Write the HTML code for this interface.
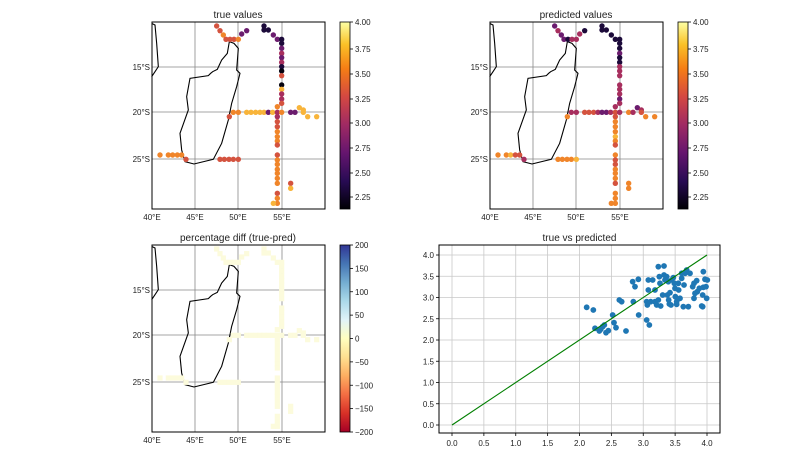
<!DOCTYPE html>
<html><head><meta charset="utf-8"><style>
body{margin:0;background:#fff;}
svg{display:block;font-family:"Liberation Sans","DejaVu Sans",sans-serif;}
</style></head><body>
<svg id="s" width="800" height="450" viewBox="0 0 800 450" xmlns="http://www.w3.org/2000/svg">
<defs>
<linearGradient id="inf" x1="0" y1="1" x2="0" y2="0">
<stop offset="0" stop-color="#000004"/><stop offset="0.15" stop-color="#280b54"/><stop offset="0.3" stop-color="#65156e"/><stop offset="0.45" stop-color="#9f2a63"/><stop offset="0.6" stop-color="#d44842"/><stop offset="0.75" stop-color="#f57d15"/><stop offset="0.88" stop-color="#fac127"/><stop offset="1" stop-color="#fcffa4"/>
</linearGradient>
<linearGradient id="rdyl" x1="0" y1="1" x2="0" y2="0">
<stop offset="0" stop-color="#a50026"/><stop offset="0.1" stop-color="#d73027"/><stop offset="0.2" stop-color="#f46d43"/><stop offset="0.3" stop-color="#fdae61"/><stop offset="0.4" stop-color="#fee090"/><stop offset="0.5" stop-color="#ffffbf"/><stop offset="0.6" stop-color="#e0f3f8"/><stop offset="0.7" stop-color="#abd9e9"/><stop offset="0.8" stop-color="#74add1"/><stop offset="0.9" stop-color="#4575b4"/><stop offset="1" stop-color="#313695"/>
</linearGradient>
</defs>
<g id="root"></g>
</svg>
<script>
var NS="http://www.w3.org/2000/svg",root=document.getElementById("root");
function el(t,a,p){var e=document.createElementNS(NS,t);for(var k in a)e.setAttribute(k,a[k]);(p||root).appendChild(e);return e;}
function txt(x,y,s,a,sz){var e=el("text",{x:x,y:y,"font-size":sz||9,fill:"#222","text-anchor":a||"middle"});e.textContent=s;return e;}
var coast="M35,40 L45,45 L50,100 L55,170 L45,185 L35,200 M268,95 L262,130 L245,150 L238,165 L232,178 L218,185 L212,190 L205,197 L150,205 L140,260 L145,300 L120,370 L125,420 L135,455 L162,462 L220,448 L245,400 L265,330 L275,280 L290,230 L300,190 L290,180 L295,115 L282,100 Z";
var O="#f0852a",R="#d4533f",Y="#f8b43a",P="#6b1c6e",D="#1c0a3a",M="#a72f5e",B="#050310";
var pts=[[230,48,R,P],[240,62,R,M],[250,75,O,P],[258,88,R,P],[270,88,R,D],[282,88,R,M],[295,88,O,M],[305,72,P,M],[320,62,P,D],
[372,48,D,D],[372,60,D,D],[385,60,D,D],[400,75,P,D],[412,88,P,D],
[425,88,D,D],[425,100,D,D],[425,115,P,D],[425,130,M,P],[425,143,P,D],[425,157,M,D],[425,170,D,M],[425,183,B,M],[425,197,R,M],[425,225,B,M],[425,238,Y,M],[425,252,M,M],[425,267,M,P],[425,280,R,M],
[268,320,R,O],[280,307,O,M],[295,307,O,M],[320,307,Y,R],[333,307,Y,R],[347,307,Y,R],[360,307,Y,M],[372,307,Y,P],[385,307,P,P],[398,307,Y,M],[412,307,M,R],[425,307,O,M],[452,307,P,O],[465,307,P,M],[478,293,Y,P],[490,300,Y,M],[490,307,Y,R],[503,320,Y,O],[530,320,Y,O],
[412,290,O,M],[412,320,M,R],[412,335,R,O],[412,350,R,O],[412,365,O,O],[412,380,O,Y],[412,393,O,O],[412,405,R,R],
[412,435,R,O],[412,450,O,R],[412,463,O,R],[412,478,O,O],[412,490,O,O],[412,505,O,O],[412,520,O,R],[412,550,R,O],[412,565,O,O],[412,580,O,O],[400,580,Y,O],
[452,520,R,O],[452,535,Y,O],
[60,435,O,O],[85,435,O,O],[98,435,O,Y],[112,435,O,R],[125,435,O,R],[138,448,R,M],
[240,448,R,O],[253,448,R,O],[267,448,R,O],[280,448,R,O],[295,448,R,Y]];
function map(dx,dy,title,mode){
  var g=el("g",{transform:"translate("+dx+","+dy+")"});
  var L=152,T=22,Rr=325,Bt=209;
  [195,238,282].forEach(function(x){el("line",{x1:x,y1:T,x2:x,y2:Bt,stroke:"#888","stroke-width":0.8},g);});
  [67,112,159].forEach(function(y){el("line",{x1:L,y1:y,x2:Rr,y2:y,stroke:"#888","stroke-width":0.8},g);});
  var cg=el("g",{transform:"translate(140,10) scale(0.3333)"},g);
  el("path",{d:coast,fill:"none",stroke:"#000","stroke-width":3.3},cg);
  pts.forEach(function(p){
    var x=140+p[0]/3,y=10+p[1]/3;
    if(mode==2){el("rect",{x:x-2.6,y:y-2.6,width:5.2,height:5.2,fill:"#fcfbdc"},g);}
    else el("circle",{cx:x,cy:y,r:2.7,fill:mode==0?p[2]:p[3]},g);
  });
  el("rect",{x:L,y:T,width:Rr-L,height:Bt-T,fill:"none",stroke:"#000","stroke-width":1},g);
  var t=txt(238,18,title,"middle",10);g.appendChild(t);
  [[152,"40°E"],[195,"45°E"],[238,"50°E"],[282,"55°E"]].forEach(function(a){g.appendChild(txt(a[0],220,a[1],"middle",8));});
  [[67,"15°S"],[112,"20°S"],[159,"25°S"]].forEach(function(a){g.appendChild(txt(150,a[0]+3,a[1],"end",8));});
  el("rect",{x:340,y:22,width:10,height:187,fill:mode==2?"url(#rdyl)":"url(#inf)",stroke:"#000","stroke-width":0.8},g);
  var labs=mode==2?[["200",0],["150",1],["100",2],["50",3],["0",4],["−50",5],["−100",6],["−150",7],["−200",8]].map(function(a){return [a[0],22+a[1]*187/8];})
   :[["4.00",22],["3.75",49],["3.50",74],["3.25",99],["3.00",123],["2.75",148],["2.50",173],["2.25",197]];
  labs.forEach(function(a){el("line",{x1:350,y1:a[1],x2:353,y2:a[1],stroke:"#000","stroke-width":0.8},g);g.appendChild(txt(355,a[1]+3,a[0],"start",8));});
}
map(0,0,"true values",0);
map(338,0,"predicted values",1);
map(0,223,"percentage diff (true-pred)",2);
(function(){
  var L=439,Rr=720,T=245,Bt=433,x0=452,x4=707,y0=425,y4=255;
  function X(v){return x0+(x4-x0)*v/4;} function Y(v){return y0+(y4-y0)*v/4;}
  for(var i=0;i<=8;i++){var v=i/2,x=X(v),y=Y(v);
    el("line",{x1:x,y1:T,x2:x,y2:Bt,stroke:"#c8c8c8","stroke-width":0.8});
    el("line",{x1:L,y1:y,x2:Rr,y2:y,stroke:"#c8c8c8","stroke-width":0.8});
    el("line",{x1:x,y1:Bt,x2:x,y2:Bt+3,stroke:"#000","stroke-width":0.8});
    el("line",{x1:L-3,y1:y,x2:L,y2:y,stroke:"#000","stroke-width":0.8});
    txt(x,Bt+13,v.toFixed(1),"middle",8);txt(L-5,y+3,v.toFixed(1),"end",8);}
  var sp=[[530,232],[550,240],[555,295],[568,303],[572,298],[578,290],[583,285],[588,308],[595,302],[608,255],[612,278],[618,293],[628,210],[635,215],[648,303],[668,155],[675,170],[685,148],[670,215],[686,255],[710,270],[718,285],[710,215],[712,225],[715,180],[722,215],[728,150],[735,215],[740,225],[745,110],[748,140],[750,160],[745,210],[752,228],[762,108],[762,135],[765,150],[770,140],[775,155],[772,195],[776,210],[778,222],[780,188],[783,225],[785,150],[790,143],[793,160],[795,175],[796,200],[800,215],[805,160],[806,180],[810,205],[815,130],[815,145],[822,165],[825,130],[830,120],[840,130],[848,170],[852,205],[860,152],[862,185],[868,175],[875,228],[878,230],[880,172],[852,160],[855,190],[880,125],[885,148],[888,170],[878,195],[835,230],[820,230],[800,223],[758,195],[735,180],[715,150],[890,205],[892,150]];
  sp.forEach(function(p){el("circle",{cx:410+p[0]/3,cy:230+p[1]/3,r:2.9,fill:"#1f77b4"});});
  el("line",{x1:X(0),y1:Y(0),x2:X(4),y2:Y(4),stroke:"#007f00","stroke-width":1.1});
  el("rect",{x:L,y:T,width:Rr-L,height:Bt-T,fill:"none",stroke:"#000","stroke-width":1});
  txt((L+Rr)/2,241,"true vs predicted","middle",10);
})();
</script>
</body></html>
